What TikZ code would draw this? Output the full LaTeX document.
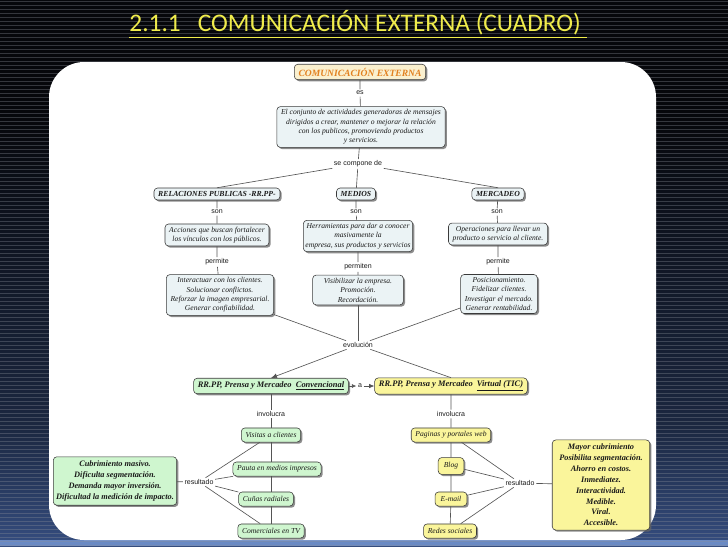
\documentclass[tikz,border=0pt]{standalone}
\usepackage{fontspec}
\setmainfont{Liberation Serif}
\newfontfamily\etiqfont{Liberation Sans}
\newfontfamily\titfont{Carlito}
\usetikzlibrary{arrows.meta,shadows,calc}
\definecolor{fondon}{HTML}{06070B}
\definecolor{fondom}{HTML}{1B2740}
\definecolor{fondoz}{HTML}{3C5790}
\definecolor{fondoa}{HTML}{5573AD}
\definecolor{banda}{HTML}{6A8AC4}
\definecolor{raya}{HTML}{8A8F9A}
\definecolor{titam}{HTML}{F0EC4C}
\definecolor{borde}{HTML}{3A3A3A}
\definecolor{celeste}{HTML}{EBF3F5}
\definecolor{crema}{HTML}{FAF0CF}
\definecolor{naranja}{HTML}{E2801F}
\definecolor{verdel}{HTML}{CFF6CF}
\definecolor{amarl}{HTML}{FAF59B}
\definecolor{linea}{HTML}{555555}
\definecolor{texto}{HTML}{1A1A1A}
\pgfdeclareverticalshading{fondo}{100bp}{color(0bp)=(fondoa); color(22bp)=(fondoz); color(36bp)=(fondom); color(65bp)=(fondon); color(100bp)=(fondon)}
\tikzset{
  caja/.style={draw=borde,line width=0.4pt,rounded corners=2.5pt,fill=celeste,align=center,text=texto,
    font=\fontsize{5.4}{6.7}\selectfont\itshape,inner xsep=3pt,inner ysep=2pt,
    drop shadow={shadow xshift=1.2pt,shadow yshift=-1.2pt,fill=black!60,opacity=0.75}},
  cajan/.style={caja,font=\fontsize{5.5}{6.7}\selectfont\bfseries\itshape,minimum height=8.5pt},
  cajav/.style={caja,fill=verdel,minimum height=10pt},
  cajaa/.style={caja,fill=amarl,minimum height=10pt},
  grande/.style={caja,font=\fontsize{5.9}{7.7}\selectfont\bfseries\itshape,inner xsep=2pt,inner ysep=3pt},
  etiq/.style={fill=white,inner sep=1pt,text=texto,font=\etiqfont\fontsize{5}{6}\selectfont},
  con/.style={draw=linea,line width=0.45pt},
  flecha/.style={con,-{Latex[length=1.5mm,width=1.2mm]}},
}

\begin{document}
\begin{tikzpicture}[x=0.025cm,y=-0.025cm]
  \useasboundingbox (0,0) rectangle (728,546);
  \shade[shading=fondo] (0,0) rectangle (728,546);
  \fill[banda] (0,540) rectangle (728,546);
  \foreach \y in {1,5,...,545}{\draw[raya,opacity=0.35,line width=0.5pt] (0,\y)--(728,\y);}
  \fill[white,rounded corners=25pt] (49,62) rectangle (656,540);
  \node[text=titam,font=\titfont\fontsize{18}{20}\selectfont] (tit) at (358,24) {\underline{2.1.1\ \ \ COMUNICACIÓN EXTERNA (CUADRO)\ }};

  \node[caja,fill=crema,text=naranja,font=\fontsize{6.8}{8}\selectfont\bfseries\itshape,minimum height=11pt] (ce) at (360,72) {COMUNICACIÓN EXTERNA};
  \node[etiq] (es) at (360,93) {es};
  \node[caja] (def) at (361,127) {El conjunto de actividades generadoras de mensajes\\ dirigidos a crear, mantener o mejorar la relación\\ con los publicos, promoviendo productos\\ y servicios.};
  \node[etiq] (seco) at (358,164) {se compone de};
  \node[cajan] (rrpp) at (217,194) {RELACIONES PUBLICAS -RR.PP-};
  \node[cajan] (medios) at (356,194) {MEDIOS};
  \node[cajan] (mercadeo) at (498,194) {MERCADEO};
  \node[etiq] (son1) at (217,212) {son};
  \node[etiq] (son2) at (356,212) {son};
  \node[etiq] (son3) at (497,212) {son};
  \node[caja] (acciones) at (217,235) {Acciones que buscan fortalecer\\ los vínculos con los públicos.};
  \node[caja,inner xsep=1.5pt] (herram) at (358,236) {Herramientas para dar a conocer\\ masivamente la\\ empresa, sus productos y servicios};
  \node[caja] (operac) at (498,234) {Operaciones para llevar un\\ producto o servicio al cliente.};
  \node[etiq] (perm1) at (217,262) {permite};
  \node[etiq] (perm2) at (358,267) {permiten};
  \node[etiq] (perm3) at (498,262) {permite};
  \node[caja] (interac) at (220,295) {Interactuar con los clientes.\\ Solucionar conflictos.\\ Reforzar la imagen empresarial.\\ Generar confiabilidad.};
  \node[caja,inner xsep=8pt] (visib) at (358,290) {Visibilizar la empresa.\\ Promoción.\\ Recordación.};
  \node[caja] (posic) at (499,294) {Posicionamiento.\\ Fidelizar clientes.\\ Investigar el mercado.\\ Generar rentabilidad.};
  \node[etiq] (evol) at (358,345) {evolución};

  \node[cajav,font=\fontsize{6}{7}\selectfont\bfseries\itshape,minimum height=11pt] (conv) at (271,386) {RR.PP, Prensa y Mercadeo\ \ \underline{Convencional}};
  \node[etiq] (a) at (360,386) {a};
  \node[cajaa,font=\fontsize{6}{7}\selectfont\bfseries\itshape,minimum height=11pt] (virt) at (451,386) {RR.PP, Prensa y Mercadeo\ \ \underline{Virtual (TIC)}};
  \node[etiq] (inv1) at (271,414) {involucra};
  \node[etiq] (inv2) at (451,414) {involucra};

  \node[cajav] (visitas) at (271,435) {Visitas a clientes};
  \node[cajav] (pauta) at (277,469) {Pauta en medios impresos};
  \node[cajav] (cunas) at (266,499) {Cuñas radiales};
  \node[cajav] (comerc) at (271,531) {Comerciales en TV};
  \node[etiq] (res1) at (199,482) {resultado};
  \node[grande,fill=verdel] (verde) at (115,481) {Cubrimiento masivo.\\ Dificulta segmentación.\\ Demanda mayor inversión.\\ Dificultad la medición de impacto.};

  \node[cajaa] (paginas) at (451,435) {Paginas y portales web};
  \node[cajaa,minimum height=12pt,inner xsep=4pt] (blog) at (451,466) {Blog};
  \node[cajaa,inner xsep=4pt] (email) at (451,499) {E-mail};
  \node[cajaa] (redes) at (450,531) {Redes sociales};
  \node[etiq] (res2) at (520,483) {resultado};
  \node[grande,fill=amarl,inner xsep=5pt] (amar) at (601,485) {Mayor cubrimiento\\ Posibilita segmentación.\\ Ahorro en costos.\\ Inmediatez.\\ Interactividad.\\ Medible.\\ Viral.\\ Accesible.};

  \draw[con] (ce) -- (es) -- (def) -- (seco);
  \draw[con] (seco) -- (rrpp.north);
  \draw[con] (seco) -- (medios);
  \draw[con] (seco) -- (mercadeo.north);
  \draw[con] (rrpp) -- (son1) -- (acciones) -- (perm1) -- (interac);
  \draw[con] (medios) -- (son2) -- (herram) -- (perm2) -- (visib);
  \draw[con] (mercadeo) -- (son3) -- (operac) -- (perm3) -- (posic);
  \foreach \n in {interac,visib,posic}{\draw[con] (\n) -- (evol);}
  \draw[flecha] (evol) -- (conv.north);
  \draw[con] (evol) -- (virt.north);
  \draw[con,-{Latex[length=1.1mm,width=1mm]}] (conv) -- (a);
  \draw[con,-{Latex[length=1.3mm,width=1.1mm]}] (a) -- (virt);

  \draw[con] (conv) -- (inv1) -- (visitas);
  \draw[con] (visitas) -- (visitas |- pauta.north);
  \draw[con] (visitas |- pauta.south) -- (visitas |- cunas.north);
  \draw[con] (visitas |- cunas.south) -- (comerc);
  \draw[con] (verde) -- (res1);
  \foreach \n in {visitas,pauta,cunas,comerc}{\draw[con] (res1) -- (\n);}

  \draw[con] (virt) -- (inv2) -- (paginas) -- (blog) -- (email) -- (redes);
  \draw[con] (res2) -- (amar);
  \foreach \n in {paginas,blog,email,redes}{\draw[con] (res2) -- (\n);}
\end{tikzpicture}
\end{document}
